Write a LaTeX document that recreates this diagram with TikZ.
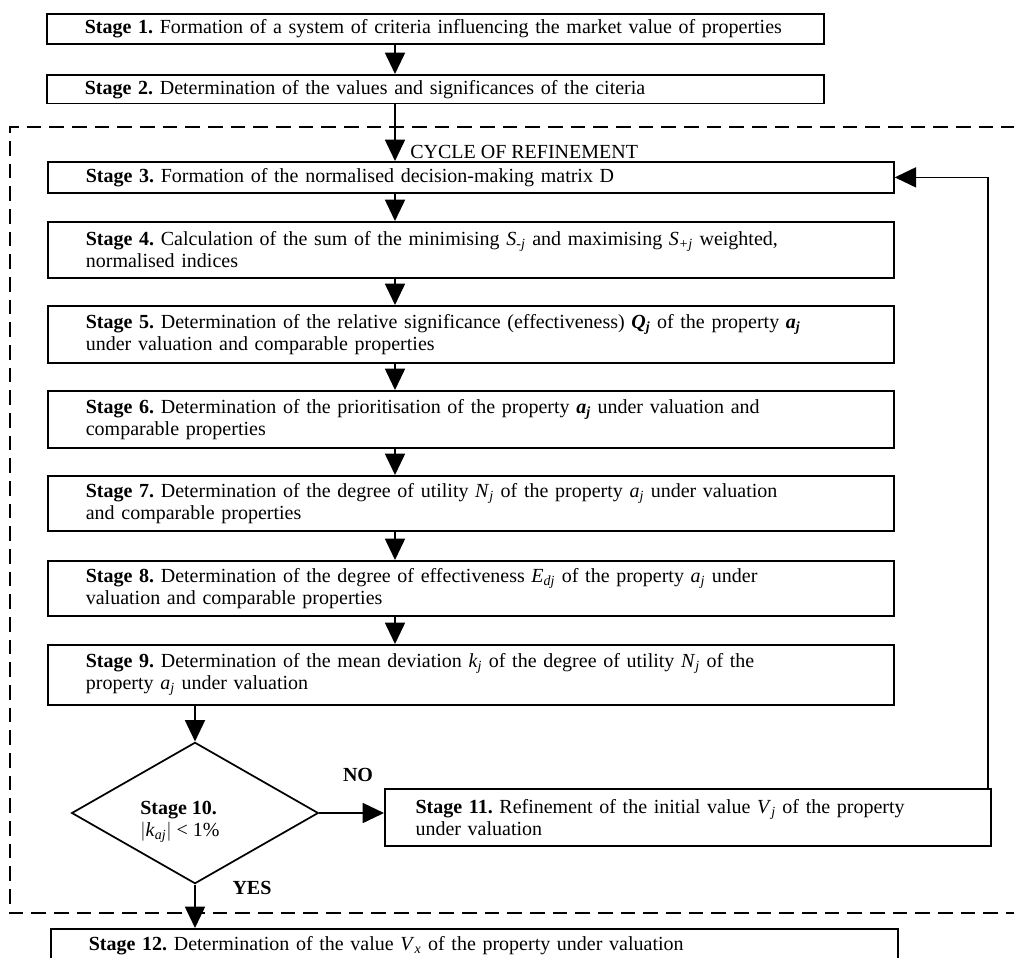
\documentclass[tikz,border=0pt]{standalone}
\usepackage{fontspec}
\setmainfont{Liberation Serif}
\usetikzlibrary{arrows.meta,shapes.geometric}
\newcommand{\ls}{\hspace*{22pt}}
\newcommand{\lsb}{\hspace*{16.5pt}}
\newcommand{\vv}[2]{\textit{#1}\textsubscript{\textit{#2}}}
\newcommand{\vb}[2]{\textbf{\textit{#1}\textsubscript{\textit{#2}}}}
\begin{document}
\begin{tikzpicture}[x=0.75pt,y=-0.75pt,
  every node/.style={font=\fontsize{15}{16.5}\selectfont\frenchspacing},
  stagebox/.style={draw, line width=1.3pt, anchor=north west, inner xsep=6.5pt, inner ysep=0pt, align=left},
  wide/.style={stagebox, text width=621.5pt},
  narrow/.style={stagebox, text width=569.75pt},
  arr/.style={line width=1.3pt, -{Triangle[width=15pt,length=16pt]}},
  frame/.style={line width=1.5pt, dash pattern=on 11pt off 6pt}]
\useasboundingbox (0,0) rectangle (1014,957);
% cycle frame
\draw[frame] (1016,127) -- (10,127) -- (10,913) -- (1016,913);
% boxes
\node[narrow, minimum height=22.5pt] (s1) at (46,13) {\ls\textbf{Stage 1.} Formation of a system of criteria influencing the market value of properties};
\node[narrow, minimum height=21.5pt] (s2) at (46,74) {\ls\textbf{Stage 2.} Determination of the values and significances of the citeria};
\node[wide, minimum height=23.25pt] (s3) at (47,161) {\ls\textbf{Stage 3.} Formation of the normalised decision-making matrix D};
\node[wide, minimum height=42pt] (s4) at (47,221) {\ls\textbf{Stage 4.} Calculation of the sum of the minimising \vv{S}{-j} and maximising \vv{S}{+j} weighted,\\\ls normalised indices};
\node[wide, minimum height=42.75pt] (s5) at (47,305) {\ls\textbf{Stage 5.} Determination of the relative significance (effectiveness) \vb{Q}{j} of the property \vb{a}{j}\\\ls under valuation and comparable properties};
\node[wide, minimum height=42.75pt] (s6) at (47,390) {\ls\textbf{Stage 6.} Determination of the prioritisation of the property \vb{a}{j} under valuation and\\\ls comparable properties};
\node[wide, minimum height=41.25pt] (s7) at (47,475) {\ls\textbf{Stage 7.} Determination of the degree of utility \vv{N}{j} of the property \vv{a}{j} under valuation\\\ls and comparable properties};
\node[wide, minimum height=41.25pt] (s8) at (47,560) {\ls\textbf{Stage 8.} Determination of the degree of effectiveness \vv{E}{dj} of the property \vv{a}{j} under\\\ls valuation and comparable properties};
\node[wide, minimum height=45pt] (s9) at (47,644) {\ls\textbf{Stage 9.} Determination of the mean deviation \vv{k}{j} of the degree of utility \vv{N}{j} of the\\\ls property \vv{a}{j} under valuation};
\node[draw, line width=1.3pt, diamond, inner sep=0pt, minimum width=185pt, minimum height=106pt] (d10) at (195,813) {};
\node[align=left, inner sep=0pt] (d10t) at (180,822) {\textbf{Stage 10.}\\ $|$\vv{k}{aj}$|$ < 1\%};
\node[stagebox, text width=441.5pt, minimum height=42.75pt] (s11) at (384,788) {\lsb\textbf{Stage 11.} Refinement of the initial value \vv{V}{j} of the property\\\lsb under valuation};
\node[stagebox, text width=622.25pt, minimum height=25.5pt] (s12) at (50,928) {\ls\textbf{Stage 12.} Determination of the value \vv{V}{x} of the property under valuation};
% labels
\node[anchor=west, inner sep=0pt] (cyc) at (410,152) {CYCLE OF REFINEMENT};
\node[inner sep=0pt, font=\fontsize{15}{16.5}\selectfont\bfseries] (no) at (358,775) {NO};
\node[inner sep=0pt, font=\fontsize{15}{16.5}\selectfont\bfseries] (yes) at (252,888) {YES};
% connectors
\coordinate (ax) at (395,0);
\coordinate (fb) at (988,176);
\draw[arr] (s1.south -| ax) -- (s2.north -| ax);
\draw[arr] (s2.south -| ax) -- (s3.north -| ax);
\draw[arr] (s3.south -| ax) -- (s4.north -| ax);
\draw[arr] (s4.south -| ax) -- (s5.north -| ax);
\draw[arr] (s5.south -| ax) -- (s6.north -| ax);
\draw[arr] (s6.south -| ax) -- (s7.north -| ax);
\draw[arr] (s7.south -| ax) -- (s8.north -| ax);
\draw[arr] (s8.south -| ax) -- (s9.north -| ax);
\draw[arr] (s9.south -| d10.north) -- (d10.north);
\draw[arr] (d10.east) -- (d10.east -| s11.west);
\draw[arr] (d10.south) -- (d10.south |- s12.north);
\draw[arr] (s11.north -| fb) |- (s3.east);
\end{tikzpicture}
\end{document}
